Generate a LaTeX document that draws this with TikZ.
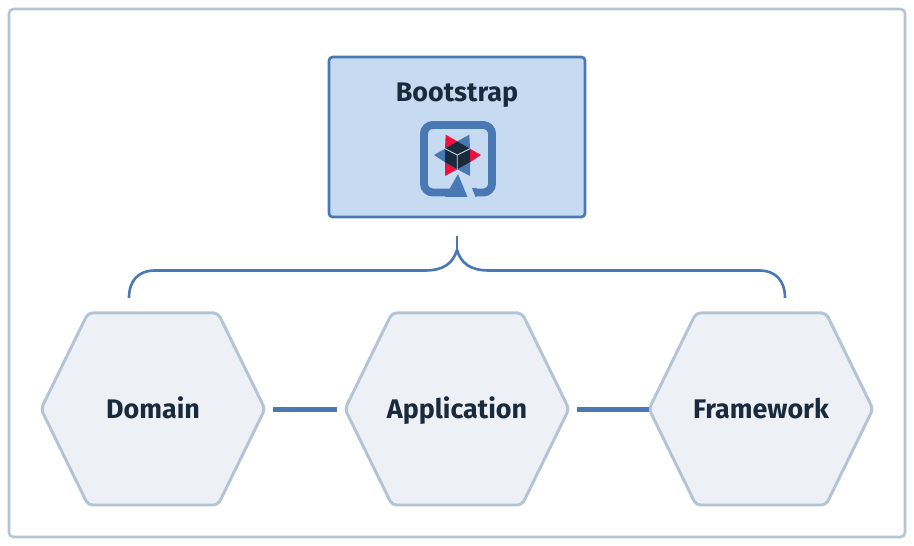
\documentclass[tikz,border=0pt]{standalone}
\usepackage{fontspec}
\setmainfont{Fira Sans}
\usepackage{xcolor}
\definecolor{frameblue}{HTML}{B4C4D6}
\definecolor{hexfill}{HTML}{EDF0F4}
\definecolor{boxfill}{HTML}{C6DBF1}
\definecolor{linkblue}{HTML}{4A78B5}
\definecolor{inkdark}{HTML}{1A2A3D}
\definecolor{logored}{HTML}{F0103F}
\tikzset{
labeltext/.style={text=inkdark,text height=10.5pt,text depth=0pt,font=\fontsize{15.3}{18}\selectfont\bfseries},
hexnode/.style={labeltext,minimum width=4.48cm,minimum height=3.84cm,inner sep=0pt,outer sep=0pt},
hexshape/.style={draw=frameblue,fill=hexfill,line width=1.7pt,rounded corners=2.5pt},
linkline/.style={draw=linkblue,line width=2.8pt},
braceline/.style={draw=linkblue,line width=1.5pt},
}
\begin{document}
\begin{tikzpicture}[x=0.02cm,y=-0.02cm]
\useasboundingbox(0,0)rectangle(914,546);
\draw[frameblue,line width=1.5pt,rounded corners=2.5pt](9,9)rectangle(905,537);
\node(boot)[draw=linkblue,fill=boxfill,line width=1.5pt,rounded corners=2pt,minimum width=5.12cm,minimum height=3.2cm,inner sep=0pt,outer sep=0pt]at(457,137){};
\node(boottitle)[labeltext]at(457,92){Bootstrap};
\draw[linkblue,line width=4.5pt,rounded corners=5pt](476,192.5)--(492,192.5)--(492,125)--(424,125)--(424,192.5)--(450,192.5);
\fill[linkblue](472,188)--(476.5,188)--(476.5,197)--(475.5,197)--cycle;
\fill[linkblue](458,174)--(467.5,197)--(445,197)--cycle;
\fill[logored](445.7,134.7)--(445,148.7)--(457.3,141.3)--cycle;
\fill[linkblue](469.3,134.7)--(470,148.7)--(457.3,141.3)--cycle;
\fill[logored](481,155)--(470,148.7)--(470,162.3)--cycle;
\fill[linkblue](470,176)--(470,162.3)--(457.3,169.3)--cycle;
\fill[logored](445,176)--(445,162.3)--(457.3,169.3)--cycle;
\fill[linkblue](434,155)--(445,148.7)--(445,162.3)--cycle;
\fill[inkdark](457.3,141.3)--(470,148.7)--(470,162.3)--(457.3,169.3)--(445,162.3)--(445,148.7)--cycle;
\draw[boxfill,line width=0.5pt](445,148.7)--(457.3,155)--(470,148.7)(457.3,155)--(457.3,169.3);
\foreach \hexx in {153,457,761}
\draw[hexshape](\hexx-112,409)--(\hexx-65,313)--(\hexx+65,313)--(\hexx+112,409)--(\hexx+65,505)--(\hexx-65,505)--cycle;
\node(domain)[hexnode]at(153,409.5){Domain};
\node(application)[hexnode]at(457,409.5){Application};
\node(framework)[hexnode]at(761,409.5){Framework};
\draw[linkline,shorten <=4.5pt,shorten >=4.5pt](domain.east)--(application.west);
\draw[linkline,shorten <=4.5pt](application.east)--(framework.west);
\coordinate(bracetop)at(457,236);
\coordinate(bracemid)at(457,250);
\coordinate(braceleft)at(129,298);
\coordinate(braceright)at(785,298);
\draw[braceline](bracetop)--(bracemid);
\draw[braceline](braceleft)..controls(129,281)and(138,270.5)..(155,270.5)--(425,270.5)..controls(444,270.5)and(453,263)..(bracemid);
\draw[braceline](braceright)..controls(785,281)and(776,270.5)..(759,270.5)--(489,270.5)..controls(470,270.5)and(461,263)..(bracemid);
\end{tikzpicture}
\end{document}
